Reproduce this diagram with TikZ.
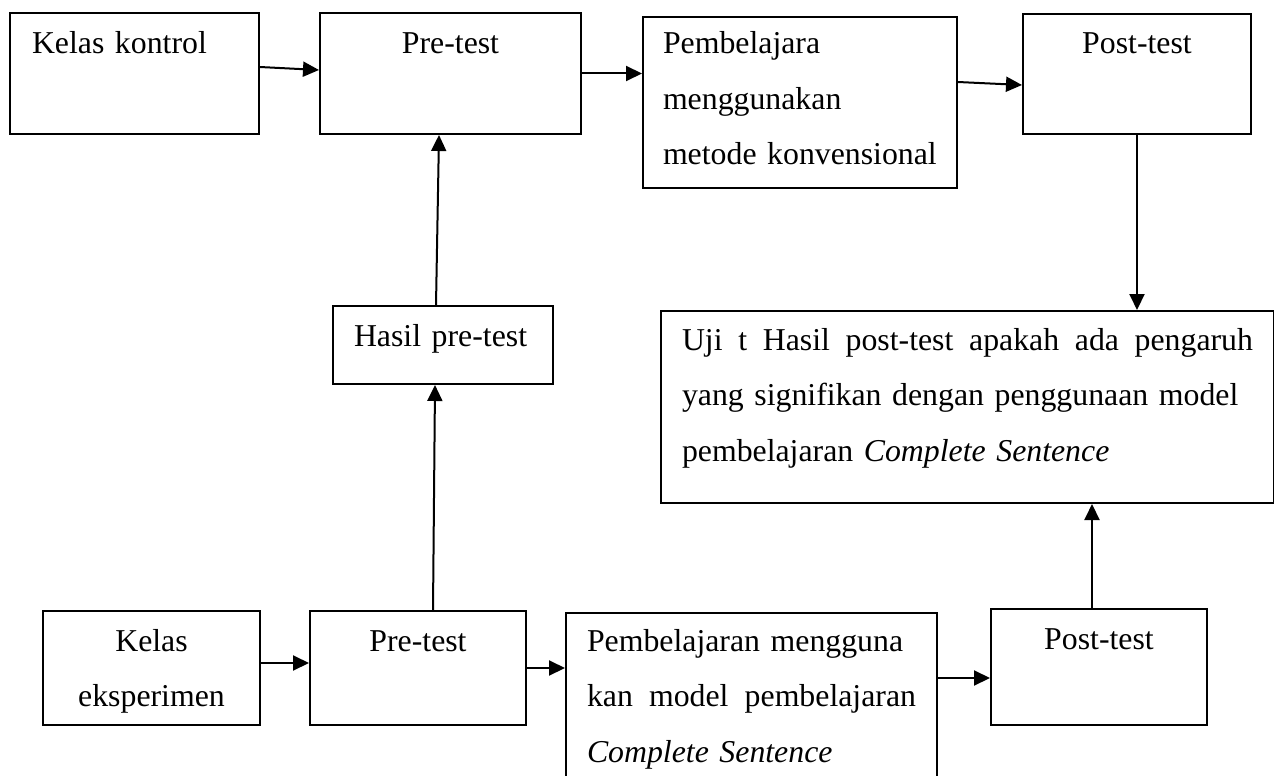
\documentclass[tikz,border=0pt]{standalone}
\usepackage{fontspec}
\setmainfont{Liberation Serif}
\usetikzlibrary{arrows.meta}

\begin{document}
\begin{tikzpicture}[x=1pt,y=-1pt,
  kotak/.style={draw,line width=2pt,anchor=north west,inner ysep=0pt,
    font=\fontsize{31.8pt}{55.5pt}\selectfont},
  panah/.style={line width=2pt,-{Triangle[length=16pt,width=15pt]}}]
  \useasboundingbox (0,0) rectangle (1274,776);
  \clip (0,0) rectangle (1274,776);
  \node[kotak, inner xsep=22pt, text width=205pt, align=left, text height=41pt, text depth=80pt] (kontrol) at (9,12) {Kelas kontrol};
  \node[kotak, inner xsep=10pt, text width=241pt, align=center, text height=41pt, text depth=80pt] (pretestA) at (319,12) {Pre-test};
  \node[kotak, inner xsep=20pt, text width=274pt, align=left, text height=37pt, text depth=134pt] (konv) at (642,16) {Pembelajara\\menggunakan\\metode konvensional};
  \node[kotak, inner xsep=10pt, text width=208pt, align=center, text height=40pt, text depth=80pt] (postA) at (1022,13) {Post-test};
  \node[kotak, inner xsep=21pt, text width=178pt, align=left, text height=40pt, text depth=38pt] (hasil) at (332,305) {Hasil pre-test};
  \node[kotak, inner xsep=21pt, text width=571pt, align=left, text height=39pt, text depth=153pt] (uji) at (660,310)
    {\makebox[571pt][s]{Uji\hfill t\hfill Hasil\hfill post-test\hfill apakah\hfill ada\hfill pengaruh}\\yang signifikan dengan penggunaan model\\pembelajaran \textit{Complete Sentence}};
  \node[kotak, inner xsep=10pt, text width=197pt, align=center, text height=40pt, text depth=74pt] (eks) at (42,610) {Kelas\\eksperimen};
  \node[kotak, inner xsep=10pt, text width=196pt, align=center, text height=40pt, text depth=74pt] (pretestB) at (309,610) {Pre-test};
  \node[kotak, inner xsep=21pt, text width=329pt, align=left, text height=38pt, text depth=135pt] (ekspem) at (565,612)
    {Pembelajaran mengguna\\\makebox[329pt][s]{kan\hfill model\hfill pembelajaran}\\\textit{Complete Sentence}};
  \node[kotak, inner xsep=10pt, text width=196pt, align=center, text height=40pt, text depth=76pt] (postB) at (990,608) {Post-test};
  % kelas kontrol
  \draw[panah] ([yshift=6.5pt]kontrol.east) -- ([yshift=3.5pt]pretestA.west);
  \draw[panah] (pretestA.east) -- (pretestA.east -| konv.west);
  \draw[panah] ([yshift=20.5pt]konv.east) -- ([yshift=-11pt]postA.west);
  \draw[panah] (postA.south) -- (postA.south |- uji.north);
  \draw[panah] ([xshift=-7pt]hasil.north) -- ([xshift=-11.5pt]pretestA.south);
  % kelas eksperimen
  \draw[panah] ([xshift=15pt]pretestB.north) -- ([xshift=-8pt]hasil.south);
  \draw[panah] ([yshift=5pt]eks.east) -- ([yshift=5pt]pretestB.west);
  \draw[panah] (pretestB.east) -- (pretestB.east -| ekspem.west);
  \draw[panah] ([yshift=21.5pt]ekspem.east) -- ([yshift=-11pt]postB.west);
  \draw[panah] ([xshift=-7pt]postB.north) -- ([xshift=124.5pt]uji.south);
\end{tikzpicture}
\end{document}
